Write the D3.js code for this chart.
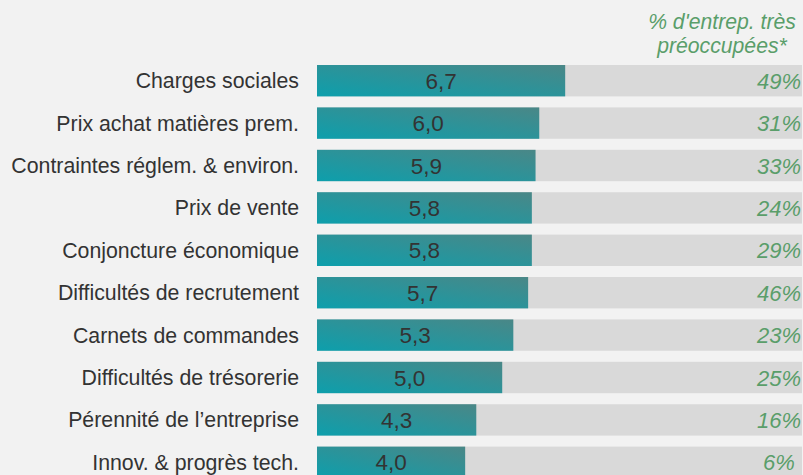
<!DOCTYPE html>
<html><head><meta charset="utf-8">
<script src="https://cdn.jsdelivr.net/npm/d3@7"></script>
<style>
html,body{margin:0;padding:0;background:#f2f2f2;}
svg{display:block;}
text{font-family:"Liberation Sans",Arial,sans-serif;}
</style></head>
<body>
<svg id="c" width="803" height="475"></svg>
<script>
const categories = ["Charges sociales","Prix achat matières prem.","Contraintes réglem. & environ.","Prix de vente","Conjoncture économique","Difficultés de recrutement","Carnets de commandes","Difficultés de trésorerie","Pérennité de l’entreprise","Innov. & progrès tech."];
const values = [6.7,6.0,5.9,5.8,5.8,5.7,5.3,5.0,4.3,4.0];
const valueLabels = ["6,7","6,0","5,9","5,8","5,8","5,7","5,3","5,0","4,3","4,0"];
const shares = ["49%","31%","33%","24%","29%","46%","23%","25%","16%","6%"];
const headerLines = ["% d'entrep. très","préoccupées*"];

const svg = d3.select("#c");
const W = 803, H = 475;
svg.append("rect").attr("width",W).attr("height",H).attr("fill","#f2f2f2");

const defs = svg.append("defs");
const g = defs.append("linearGradient").attr("id","grad")
  .attr("x1","0%").attr("y1","100%").attr("x2","100%").attr("y2","0%");
g.append("stop").attr("offset","0%").attr("stop-color","#0d9fac");
g.append("stop").attr("offset","100%").attr("stop-color","#4a8787");

const x = d3.scaleLinear().domain([0, 13.12]).range([317, 803]);
const y = d3.scaleBand().domain(categories).range([59.5, 483.5]).paddingInner(0.26).paddingOuter(0.13);

const rows = svg.selectAll("g.row").data(categories).join("g").attr("class","row");

rows.append("rect")
  .attr("x", x(0)).attr("y", d=>y(d)).attr("width", 802 - x(0)).attr("height", y.bandwidth())
  .attr("fill","#d9d9d9");

rows.append("rect")
  .attr("x", x(0)).attr("y", d=>y(d))
  .attr("width", (d,i)=>x(values[i]) - x(0)).attr("height", y.bandwidth())
  .attr("fill","url(#grad)");

rows.append("text")
  .attr("x", (d,i)=>(x(0)+x(values[i]))/2).attr("y", d=>y(d)+y.bandwidth()/2+8)
  .attr("text-anchor","middle").attr("font-size","22.5px").attr("fill","#333333")
  .text((d,i)=>valueLabels[i]);

rows.append("text")
  .attr("x", 299).attr("y", d=>y(d)+y.bandwidth()/2+7.5)
  .attr("text-anchor","end").attr("font-size","21.3px").attr("fill","#333333")
  .text(d=>d);

rows.append("text")
  .attr("x", 779).attr("y", d=>y(d)+y.bandwidth()/2+8)
  .attr("text-anchor","middle").attr("font-size","22px").attr("font-style","italic").attr("fill","#5a9e6a")
  .text((d,i)=>shares[i]);

svg.selectAll("text.hdr").data(headerLines).join("text").attr("class","hdr")
  .attr("x", 722).attr("y",(d,i)=>29+i*24)
  .attr("text-anchor","middle").attr("font-size","21.2px").attr("font-style","italic").attr("fill","#5a9e6a")
  .text(d=>d);
</script>
</body></html>
